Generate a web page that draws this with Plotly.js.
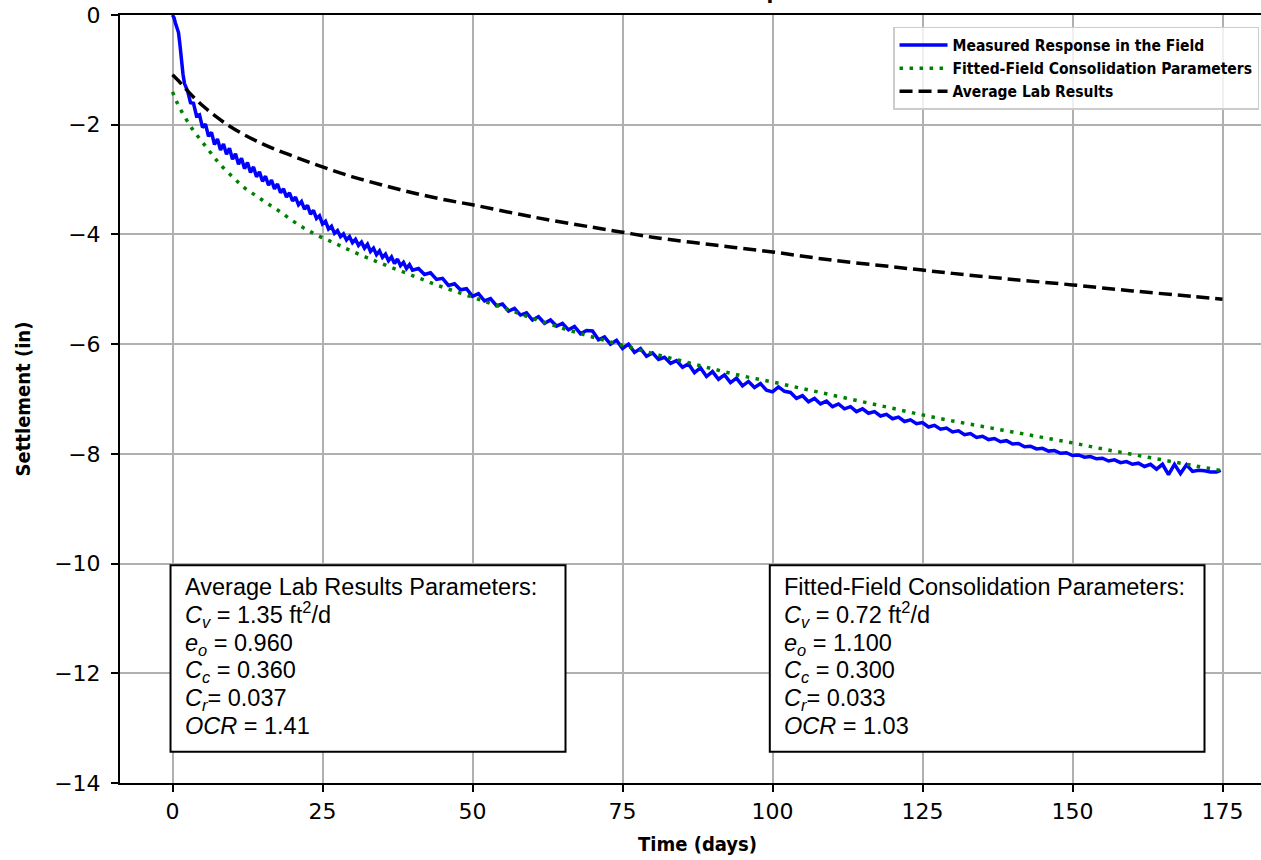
<!DOCTYPE html>
<html>
<head>
<meta charset="utf-8">
<script src="https://cdn.plot.ly/plotly-3.0.1.min.js"></script>
<style>
  html, body { margin: 0; padding: 0; overflow: hidden; background: #ffffff; }
  #chart { width: 1290px; height: 860px; }
</style>
</head>
<body>
<div id="chart"></div>
<script>
// Field settlement record (days, inches)
const measuredDays = [
  0, 0.25, 0.5, 0.75, 1, 1.25, 1.5, 1.75, 2,
  2.5, 3, 3.5, 4, 4.5, 5, 5.5, 6, 6.5, 7, 7.5, 8, 8.5, 9, 9.5, 10,
  10.5, 11, 11.5, 12, 12.5, 13, 13.5, 14, 14.5, 15, 15.5, 16, 16.5, 17, 17.5, 18, 18.5, 19, 19.5, 20,
  20.5, 21, 21.5, 22, 22.5, 23, 23.5, 24, 24.5, 25, 25.5, 26, 26.5, 27, 27.5, 28, 28.5, 29, 29.5, 30,
  30.5, 31, 31.5, 32, 32.5, 33, 33.5, 34, 34.5, 35, 35.5, 36, 36.5, 37, 37.5, 38, 38.5, 39, 39.5, 40,
  41, 42, 43, 44, 45, 46, 47, 48, 49, 50,
  51, 52, 53, 54, 55, 56, 57, 58, 59, 60,
  61, 62, 63, 64, 65, 66, 67, 68, 69, 70,
  71, 72, 73, 74, 75, 76, 77, 78, 79, 80,
  81, 82, 83, 84, 85, 86, 87, 88, 89, 90,
  91, 92, 93, 94, 95, 96, 97, 98, 99, 100,
  101, 102, 103, 104, 105, 106, 107, 108, 109, 110,
  111, 112, 113, 114, 115, 116, 117, 118, 119, 120,
  121, 122, 123, 124, 125, 126, 127, 128, 129, 130,
  131, 132, 133, 134, 135, 136, 137, 138, 139, 140,
  141, 142, 143, 144, 145, 146, 147, 148, 149, 150,
  151, 152, 153, 154, 155, 156, 157, 158, 159, 160,
  161, 162, 163, 164, 165, 166, 167, 168, 169, 170,
  171, 172, 173, 174, 174.7
];
const measuredSettlement = [
  0, -0.05, -0.15, -0.22, -0.32, -0.55, -0.85, -1.08, -1.25,
  -1.38, -1.60, -1.61, -1.84, -1.82, -2.05, -1.99, -2.21, -2.14, -2.36, -2.26, -2.46, -2.35, -2.54, -2.43, -2.63,
  -2.53, -2.72, -2.61, -2.80, -2.69, -2.87, -2.77, -2.95, -2.86, -3.03, -2.94, -3.10, -3.01, -3.17, -3.08, -3.24, -3.17, -3.32, -3.24, -3.39,
  -3.32, -3.46, -3.40, -3.54, -3.47, -3.63, -3.56, -3.71, -3.66, -3.81, -3.76, -3.90, -3.85, -3.98, -3.93, -4.04, -3.99, -4.10, -4.04, -4.15,
  -4.09, -4.20, -4.14, -4.25, -4.18, -4.31, -4.25, -4.37, -4.30, -4.42, -4.36, -4.48, -4.41, -4.53, -4.45, -4.57, -4.51, -4.62, -4.55, -4.65,
  -4.62, -4.73, -4.70, -4.82, -4.80, -4.93, -4.90, -5.01, -4.99, -5.13,
  -5.08, -5.21, -5.17, -5.30, -5.27, -5.40, -5.35, -5.47, -5.43, -5.56,
  -5.50, -5.62, -5.56, -5.67, -5.62, -5.74, -5.68, -5.81, -5.75, -5.76,
  -5.92, -5.87, -6.00, -5.93, -6.08, -6.00, -6.15, -6.08, -6.22, -6.16,
  -6.28, -6.24, -6.35, -6.30, -6.42, -6.36, -6.52, -6.43, -6.59, -6.50,
  -6.64, -6.56, -6.70, -6.62, -6.76, -6.68, -6.79, -6.72, -6.84, -6.87,
  -6.78, -6.86, -6.88, -6.99, -6.94, -7.05, -6.99, -7.09, -7.04, -7.14,
  -7.09, -7.18, -7.14, -7.23, -7.18, -7.26, -7.23, -7.31, -7.28, -7.36,
  -7.33, -7.41, -7.38, -7.45, -7.43, -7.51, -7.48, -7.55, -7.53, -7.60,
  -7.58, -7.65, -7.63, -7.70, -7.68, -7.74, -7.72, -7.78, -7.76, -7.82,
  -7.81, -7.87, -7.86, -7.91, -7.90, -7.95, -7.94, -7.99, -7.98, -8.03,
  -8.02, -8.06, -8.05, -8.09, -8.08, -8.13, -8.11, -8.16, -8.14, -8.19,
  -8.17, -8.23, -8.19, -8.28, -8.19, -8.38, -8.19, -8.36, -8.20, -8.32,
  -8.30, -8.31, -8.33, -8.33, -8.30
];

// Prediction with the back-fitted field parameters
const fittedDays = [0, 0.5, 1, 2, 3, 4, 5, 6, 7, 8, 10, 12, 14, 16, 18, 20, 22, 24, 26, 28, 30, 33, 36, 40, 44, 48,
  52, 56, 60, 65, 70, 75, 80, 85, 90, 95, 100, 105, 110, 115, 120, 125, 130, 135, 140, 145, 150, 155, 160, 165, 170, 175];
const fittedSettlement = [-1.40, -1.53, -1.65, -1.85, -2.03, -2.18, -2.32, -2.46, -2.60, -2.73, -2.95, -3.15, -3.30, -3.45,
  -3.59, -3.75, -3.89, -4.01, -4.11, -4.21, -4.31, -4.45, -4.58, -4.75, -4.92, -5.07,
  -5.22, -5.37, -5.53, -5.71, -5.87, -6.02, -6.17, -6.31, -6.45, -6.58, -6.69, -6.81, -6.93, -7.05, -7.17, -7.29,
  -7.40, -7.50, -7.60, -7.70, -7.80, -7.91, -8.01, -8.11, -8.21, -8.31];

// Prediction with the averaged laboratory parameters
const labDays = [0, 1, 2, 3, 5, 7, 10, 15, 20, 25, 30, 35, 40, 45, 50, 60, 70, 75, 80, 90, 100, 110, 120, 125, 130,
  140, 150, 160, 170, 175];
const labSettlement = [-1.09, -1.20, -1.32, -1.44, -1.65, -1.83, -2.06, -2.35, -2.57, -2.77, -2.95, -3.10, -3.24, -3.36,
  -3.46, -3.68, -3.87, -3.96, -4.05, -4.19, -4.32, -4.47, -4.59, -4.65, -4.71, -4.82, -4.92, -5.03, -5.13, -5.18];

const seriesNames = ['Measured Response in the Field', 'Fitted-Field Consolidation Parameters', 'Average Lab Results'];
const xTicks = [0, 25, 50, 75, 100, 125, 150, 175];
const yTicks = [0, -2, -4, -6, -8, -10, -12, -14];

const labParams = [
  'Average Lab Results Parameters:',
  '<i>C<sub>v</sub></i> = 1.35 ft<sup>2</sup>/d',
  '<i>e<sub>o</sub></i> = 0.960',
  '<i>C<sub>c</sub></i> = 0.360',
  '<i>C<sub>r</sub></i>= 0.037',
  '<i>OCR</i> = 1.41'
];
const fieldParams = [
  'Fitted-Field Consolidation Parameters:',
  '<i>C<sub>v</sub></i> = 0.72 ft<sup>2</sup>/d',
  '<i>e<sub>o</sub></i> = 1.100',
  '<i>C<sub>c</sub></i> = 0.300',
  '<i>C<sub>r</sub></i>= 0.033',
  '<i>OCR</i> = 1.03'
];

const condensed = '"DejaVu Sans Condensed", "DejaVu Sans", sans-serif';
const tickFont = { family: '"DejaVu Sans", sans-serif', size: 22, color: '#000000' };
// base size sets the line pitch; each line is drawn a little larger
const boxFont = { family: '"Liberation Sans", Arial, sans-serif', size: 21.4, color: '#000000' };
const boxText = lines => lines.map(s => '<span style="font-size:23.5px">' + s + '</span>').join('<br>');

const traces = [
  {
    x: measuredDays, y: measuredSettlement, name: seriesNames[0],
    type: 'scatter', mode: 'lines',
    line: { color: '#0000ff', width: 3.5 }
  },
  {
    x: fittedDays, y: fittedSettlement, name: seriesNames[1],
    type: 'scatter', mode: 'lines', line: { color: '#008000', width: 3.5, dash: '3.5px,6.5px', shape: 'spline' }
  },
  {
    x: labDays, y: labSettlement, name: seriesNames[2],
    type: 'scatter', mode: 'lines', line: { color: '#000000', width: 3.5, dash: '13px,6px', shape: 'spline' }
  }
];

const axisCommon = {
  showline: true, mirror: true, linecolor: '#000000', linewidth: 2,
  ticks: 'outside', ticklen: 7, tickwidth: 2, tickcolor: '#000000',
  showgrid: true, gridcolor: '#b0b0b0', gridwidth: 2, zeroline: false,
  tickfont: tickFont
};

const layout = {
  width: 1290, height: 860,
  margin: { l: 120, r: 15, t: 15, b: 77 },
  paper_bgcolor: '#ffffff', plot_bgcolor: '#ffffff',
  showlegend: true,
  xaxis: Object.assign({}, axisCommon, {
    range: [-8.75, 183.75], tickvals: xTicks, ticktext: xTicks.map(String), ticklabelstandoff: 1,
    title: { text: '<b>Time (days)</b>', font: { family: condensed, size: 20, color: '#000000' }, standoff: 14 }
  }),
  yaxis: Object.assign({}, axisCommon, {
    range: [-14, 0], tickvals: yTicks, ticklabelstandoff: 6,
    title: { text: '<b>Settlement (in)</b>', font: { family: condensed, size: 20, color: '#000000' }, standoff: 18 }
  }),
  legend: {
    x: 0.6693, y: 0.9844, xanchor: 'left', yanchor: 'top', itemwidth: 48,
    bgcolor: 'rgba(255,255,255,0.8)', bordercolor: '#cccccc', borderwidth: 1.5,
    font: { family: condensed, size: 15.5, color: '#000000', weight: 'bold' }
  },
  shapes: [
    { type: 'rect', xref: 'x', yref: 'y', x0: -0.33, x1: 65.5, y0: -10.03, y1: -13.43,
      line: { color: '#000000', width: 2 }, fillcolor: '#ffffff', layer: 'above' },
    { type: 'rect', xref: 'x', yref: 'y', x0: 99.55, x1: 172.0, y0: -10.03, y1: -13.43,
      line: { color: '#000000', width: 2 }, fillcolor: '#ffffff', layer: 'above' }
  ],
  annotations: [
    { xref: 'paper', yref: 'paper', x: 0.491, y: 1, xanchor: 'center', yanchor: 'bottom', yshift: 9,
      text: '<b>Field Settlement Comparison</b>', showarrow: false,
      font: { family: condensed, size: 22, color: '#000000' } },
    { xref: 'x', yref: 'y', x: 1.9, y: -10.17, xanchor: 'left', yanchor: 'top', align: 'left',
      text: boxText(labParams), showarrow: false, font: boxFont, borderpad: 0 },
    { xref: 'x', yref: 'y', x: 101.8, y: -10.17, xanchor: 'left', yanchor: 'top', align: 'left',
      text: boxText(fieldParams), showarrow: false, font: boxFont, borderpad: 0 }
  ]
};

Plotly.newPlot('chart', traces, layout, { displayModeBar: false, staticPlot: true });
</script>
</body>
</html>
